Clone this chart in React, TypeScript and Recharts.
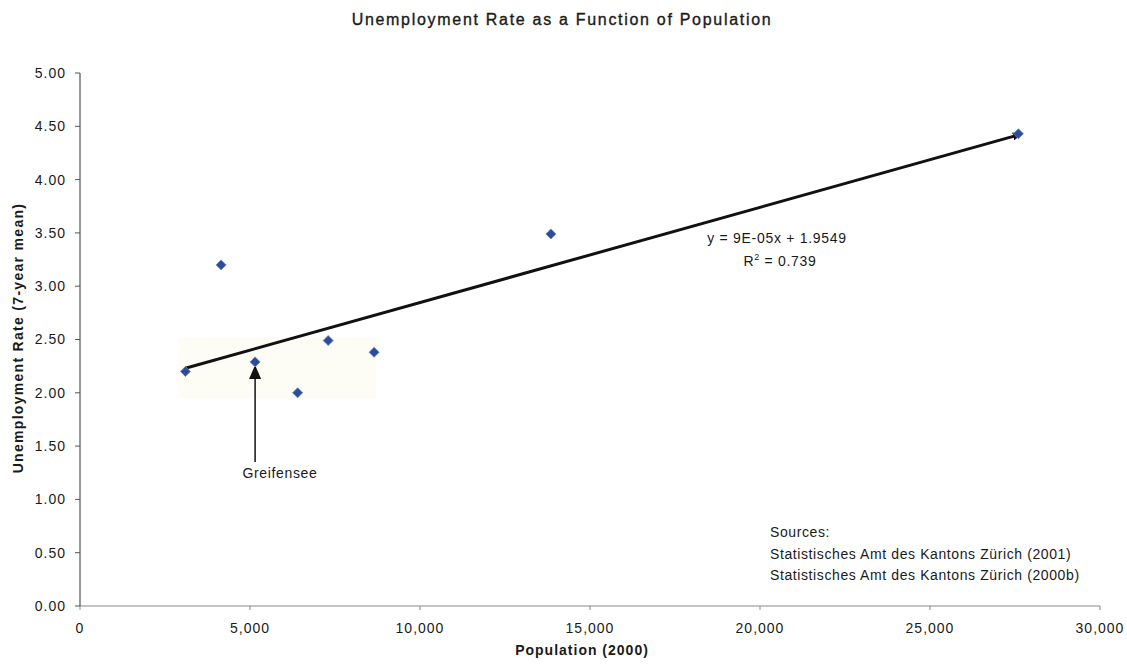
import React from 'react';
import { ScatterChart, Scatter, XAxis, YAxis, ReferenceLine, ReferenceArea } from 'recharts';

const populations = [3100, 4150, 5150, 6400, 7300, 8650, 13850, 27600];
const rates = [2.2, 3.2, 2.29, 2.0, 2.49, 2.38, 3.49, 4.43];
const trendX = [3100, 27500];
const trendY = [2.23, 4.41];
const greifenseeIndex = 2;
const greifenseeArrowY = [1.35, 2.25];
const xTicks = [0, 5000, 10000, 15000, 20000, 25000, 30000];
const yTicks = [0, 0.5, 1, 1.5, 2, 2.5, 3, 3.5, 4, 4.5, 5];
const titleText = 'Unemployment Rate as a Function of Population';
const xTitle = 'Population (2000)';
const yTitle = 'Unemployment Rate (7-year mean)';
const equationText = 'y = 9E-05x + 1.9549';
const r2Value = '0.739';
const sourcesLines = [
  'Sources:',
  'Statistisches Amt des Kantons Zürich (2001)',
  'Statistisches Amt des Kantons Zürich (2000b)',
];
const annotationLabel = 'Greifensee';

const points = populations.map((x, i) => ({ x, y: rates[i] }));

const FONT = '"Liberation Sans", Arial, Helvetica, sans-serif';

const Diamond = (props: any) => {
  const { cx, cy } = props;
  if (cx == null || cy == null) return null;
  const r = 5;
  return (
    <polygon
      points={`${cx},${cy - r} ${cx + r},${cy} ${cx},${cy + r} ${cx - r},${cy}`}
      fill="#2d4d9c"
      stroke="#6682c4"
      strokeWidth={0.8}
    />
  );
};

export default function App() {
  const textStyle = { fontFamily: FONT, fontSize: 14, fill: '#1a1a1a' } as const;
  return (
    <div style={{ position: 'absolute', left: 0, top: 0, width: 1127, height: 667, background: '#fff' }}>
      <ScatterChart width={1127} height={667} margin={{ top: 73, right: 27, bottom: 31, left: 20 }}>
        <defs>
          <marker id="trendArrow" markerWidth="10" markerHeight="8" refX="2" refY="4" orient="auto" markerUnits="userSpaceOnUse">
            <path d="M0,0 L10,4 L0,8 Z" fill="#111" />
          </marker>
          <marker id="annoArrow" markerWidth="12" markerHeight="14" refX="0" refY="6" orient="auto" markerUnits="userSpaceOnUse">
            <path d="M0,0 L14,6 L0,12 Z" fill="#111" />
          </marker>
        </defs>
        <ReferenceArea
          x1={2900}
          x2={8700}
          y1={1.95}
          y2={2.52}
          fill="#fdfcf5"
          fillOpacity={1}
          stroke="none"
          ifOverflow="visible"
        />
        <XAxis
          type="number"
          dataKey="x"
          domain={[0, 30000]}
          ticks={xTicks}
          tickFormatter={(v: number) => v.toLocaleString('en-US')}
          height={30}
          tickSize={4}
          tickMargin={13}
          axisLine={{ stroke: '#b0b0b0', strokeWidth: 1.5 }}
          tickLine={{ stroke: '#888' }}
          tick={{ fill: '#1a1a1a', fontSize: 14, fontFamily: FONT, letterSpacing: 1 }}
          interval={0}
        />
        <YAxis
          type="number"
          dataKey="y"
          domain={[0, 5]}
          ticks={yTicks}
          tickFormatter={(v: number) => v.toFixed(2)}
          width={60}
          tickSize={5}
          tickMargin={9}
          axisLine={{ stroke: '#333', strokeWidth: 1 }}
          tickLine={{ stroke: '#555' }}
          tick={{ fill: '#1a1a1a', fontSize: 14, fontFamily: FONT, letterSpacing: 1 }}
          interval={0}
        />
        <ReferenceLine
          segment={[
            { x: trendX[0], y: trendY[0] },
            { x: trendX[1], y: trendY[1] },
          ]}
          stroke="#111"
          strokeWidth={3}
          markerEnd="url(#trendArrow)"
          ifOverflow="visible"
        />
        <ReferenceLine
          segment={[
            { x: populations[greifenseeIndex], y: greifenseeArrowY[0] },
            { x: populations[greifenseeIndex], y: greifenseeArrowY[1] - 0.12 },
          ]}
          stroke="#111"
          strokeWidth={1.5}
          markerEnd="url(#annoArrow)"
          ifOverflow="visible"
        />
        <Scatter data={points} dataKey="y" shape={Diamond} isAnimationActive={false} />
        <text
          x={562}
          y={25}
          textAnchor="middle"
          style={{ ...textStyle, fontSize: 16, letterSpacing: 1.7, stroke: '#1a1a1a', strokeWidth: 0.35 }}
        >
          {titleText}
        </text>
        <text x={582} y={655} textAnchor="middle" style={{ ...textStyle, fontWeight: 'bold', letterSpacing: 1 }}>
          {xTitle}
        </text>
        <text
          x={18}
          y={338}
          textAnchor="middle"
          dominantBaseline="central"
          transform="rotate(-90, 18, 338)"
          style={{ ...textStyle, fontWeight: 'bold', letterSpacing: 1.3 }}
        >
          {yTitle}
        </text>
        <text x={777} y={243} textAnchor="middle" style={{ ...textStyle, letterSpacing: 0.7 }}>
          {equationText}
        </text>
        <text x={780} y={266} textAnchor="middle" style={{ ...textStyle, letterSpacing: 0.7 }}>
          R
          <tspan dy={-6} style={{ fontSize: 9 }}>2</tspan>
          <tspan dy={6}>{` = ${r2Value}`}</tspan>
        </text>
        {sourcesLines.map((line, i) => (
          <text key={i} x={770} y={537 + i * 21.5} style={{ ...textStyle, letterSpacing: 0.6 }}>
            {line}
          </text>
        ))}
        <text x={280} y={478} textAnchor="middle" style={{ ...textStyle, letterSpacing: 0.65 }}>
          {annotationLabel}
        </text>
      </ScatterChart>
    </div>
  );
}
